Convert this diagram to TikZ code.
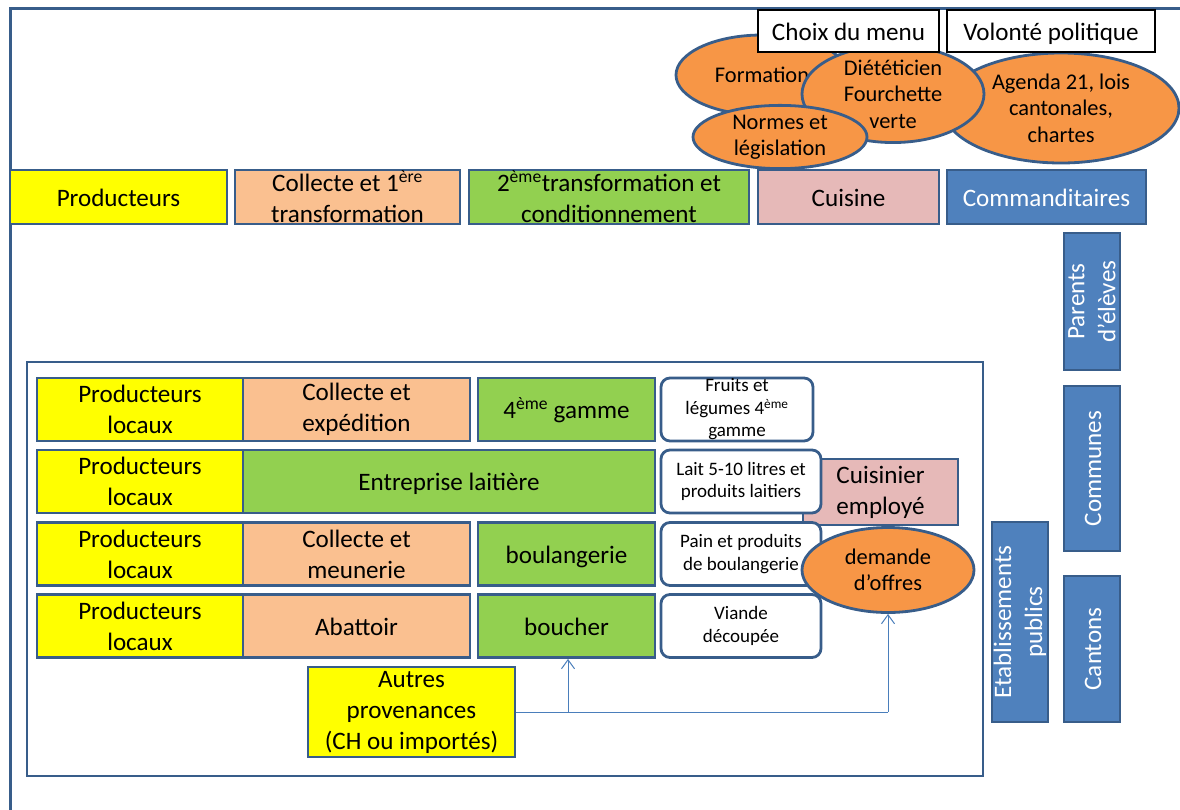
\documentclass[tikz,border=0pt]{standalone}
\usepackage{fontspec}
\setmainfont{Carlito}
\usetikzlibrary{arrows.meta,shapes.geometric}

\definecolor{edge}{HTML}{385D8A}
\definecolor{yel}{HTML}{FFFF00}
\definecolor{sal}{HTML}{FAC090}
\definecolor{grn}{HTML}{92D050}
\definecolor{pnk}{HTML}{E6B9B8}
\definecolor{blu}{HTML}{4F81BD}
\definecolor{org}{HTML}{F79646}
\definecolor{wire}{HTML}{4A7EBB}

\tikzset{
  big/.style={font=\fontsize{25.1}{31}\selectfont},
  small/.style={font=\fontsize{19}{22.5}\selectfont},
  mid/.style={font=\fontsize{22.4}{26.5}\selectfont},
  oneline/.style={text height=20pt, text depth=2pt},
  sz/.style 2 args={minimum width=#1, minimum height=#2},
  box/.style={rectangle, draw=edge, line width=2.8pt, inner sep=0pt, align=center, big},
  yelbox/.style={box, fill=yel},
  salbox/.style={box, fill=sal},
  grnbox/.style={box, fill=grn},
  pnkbox/.style={box, fill=pnk},
  blubox/.style={box, fill=blu, text=white},
  vbox/.style={blubox, rotate=90},
  prodbox/.style={box, rounded corners=9pt, fill=white, small},
  tagbox/.style={rectangle, draw=black, line width=1.1pt, fill=white, inner sep=0pt, big, oneline},
  blob/.style={ellipse, draw=edge, line width=2.8pt, fill=org, inner sep=0pt, align=center, mid},
  feed/.style={draw=wire, line width=1pt},
  feedarrow/.style={feed, -{Straight Barb[length=9pt,width=13pt]}},
}

\begin{document}
\begin{tikzpicture}[x=1pt, y=-1pt]
\useasboundingbox (0,0) rectangle (1180,809);

% outer frame, open to the right and below
\draw[edge, line width=3pt] (10,830) -- (10,8) -- (1200,8);

% chain headings
\node[yelbox, oneline, sz={217}{54}] (prod) at (118.5,197) {Producteurs};
\node[salbox, sz={225}{54}] (coll1) at (347.5,197) {Collecte et 1\textsuperscript{ère}\\transformation};
\node[grnbox, sz={280}{54}] (trans2) at (609,197) {2\textsuperscript{ème}transformation et\\conditionnement};
\node[pnkbox, oneline, sz={181}{54}] (cuisine) at (848.5,197) {Cuisine};
\node[blubox, oneline, sz={199}{54}] (command) at (1046.5,197) {Commanditaires};

% influences on the kitchen and the clients
\node[blob, sz={172}{80}] (formation) at (762,75) {Formation};
\node[blob, sz={236}{110}] (agenda) at (1061,108) {Agenda 21, lois\\cantonales,\\chartes};
\node[blob, sz={182}{82}] (diet) at (893,94) {Diététicien\\Fourchette\\verte};
\node[blob, sz={174}{62}] (normes) at (780,137) {Normes et\\législation};
\node[tagbox, sz={181}{42}] (menu) at (848.5,31) {Choix du menu};
\node[tagbox, sz={208}{42}] (volonte) at (1051,31) {Volonté politique};

% clients
\node[vbox, sz={137}{56}] (parents) at (1092,301.5) {Parents\\d’élèves};
\node[vbox, oneline, sz={165}{56}] (communes) at (1092,468.5) {Communes};
\node[vbox, oneline, sz={146}{56}] (cantons) at (1092,649) {Cantons};
\node[vbox, sz={200}{56}] (etab) at (1020,622) {Etablissements\\publics};

% local supply chains
\draw[edge, line width=2.8pt] (27,362) rectangle (983,776);

\node[pnkbox, sz={155}{66}] (cuisinier) at (880.5,492) {Cuisinier\\employé};

\node[yelbox, sz={206}{63}] (p1) at (140,409.5) {Producteurs\\locaux};
\node[salbox, sz={227}{63}] (c1) at (356.5,409.5) {Collecte et\\expédition};
\node[grnbox, oneline, sz={177}{63}] (g1) at (566.5,409.5) {4\textsuperscript{ème} gamme};
\node[prodbox, sz={152}{63}] (o1) at (737,409.5) {Fruits et\\légumes 4\textsuperscript{ème}\\gamme};

\node[yelbox, sz={206}{63}] (p2) at (140,481.5) {Producteurs\\locaux};
\node[grnbox, oneline, sz={412}{63}] (g2) at (449,481.5) {Entreprise laitière};
\node[prodbox, sz={160}{63}] (o2) at (741,481.5) {Lait 5-10 litres et\\produits laitiers};

\node[yelbox, sz={206}{63}] (p3) at (140,554) {Producteurs\\locaux};
\node[salbox, sz={227}{63}] (c3) at (356.5,554) {Collecte et\\meunerie};
\node[grnbox, oneline, sz={177}{63}] (g3) at (566.5,554) {boulangerie};
\node[prodbox, sz={160}{63}] (o3) at (741,554) {Pain et produits\\de boulangerie};

\node[yelbox, sz={206}{63}] (p4) at (140,626) {Producteurs\\locaux};
\node[salbox, oneline, sz={227}{63}] (c4) at (356.5,626) {Abattoir};
\node[grnbox, oneline, sz={177}{63}] (g4) at (566.5,626) {boucher};
\node[prodbox, sz={160}{63}] (o4) at (741,626) {Viande\\découpée};

\node[blob, sz={172}{85}] (offres) at (888,570) {demande\\d’offres};

\node[yelbox, sz={207}{90}] (autres) at (411.5,712) {Autres\\provenances\\(CH ou importés)};

% other sources feed the butcher and the call for tenders
\coordinate (split) at (568,712);
\coordinate (corner) at (888,712);
\draw[feed] (autres.east) -- (corner);
\draw[feedarrow] (corner) -- (offres.south);
\draw[feedarrow] (split) -- (split |- g4.south);
\end{tikzpicture}
\end{document}
